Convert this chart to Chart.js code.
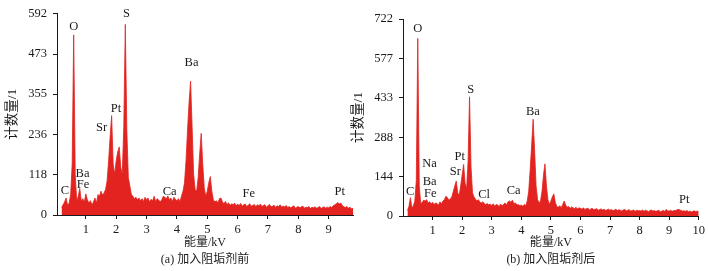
<!DOCTYPE html>
<html>
<head>
<meta charset="utf-8">
<script src="https://cdn.jsdelivr.net/npm/chart.js@4.4.0/dist/chart.umd.min.js"></script>
<style>
  body { margin: 0; background: #fff; width: 708px; height: 271px; overflow: hidden; position: relative; }
  .box { position: absolute; top: 0; height: 271px; }
</style>
</head>
<body>
<div class="box" style="left:0;width:360px"><canvas id="chartA" width="360" height="271"></canvas></div>
<div class="box" style="left:350px;width:358px"><canvas id="chartB" width="358" height="271"></canvas></div>
<script>
// EDS spectra, counts per channel (channel calibration: start + step in kV)
const startA = 0.20, stepA = 0.05;
const countsA = [
  22, 30, 38, 50, 28, 35, 60, 150, 529, 120, 40, 55, 78, 40, 48, 38,
  62, 45, 35, 42, 30, 38, 50, 35, 60, 55, 70, 58, 65, 75, 100, 160, 230, 292, 150, 120,
  160, 185, 200, 140, 120, 260, 560, 250, 110, 85, 60, 55, 48, 52, 45, 50, 42, 48, 40, 52,
  45, 50, 38, 46, 42, 55, 40, 48, 44, 38, 45, 55, 52, 48, 56, 45, 50, 40, 52, 46,
  42, 48, 40, 55, 70, 95, 160, 250, 330, 393, 260, 120, 75, 70, 110, 180, 240, 150, 80, 55,
  70, 95, 113, 70, 45, 38, 42, 36, 48, 50, 38, 34, 40, 30, 36, 28, 33, 30, 35, 27,
  32, 28, 34, 26, 30, 32, 25, 29, 33, 26, 28, 31, 24, 30, 27, 32, 25, 28, 30, 23,
  27, 31, 24, 26, 29, 22, 27, 25, 30, 23, 26, 24, 28, 22, 25, 21, 24, 27, 20, 23,
  25, 21, 24, 26, 20, 23, 22, 25, 19, 23, 21, 24, 20, 22, 25, 19, 22, 24, 20, 23,
  21, 25, 22, 27, 30, 33, 37, 32, 35, 28, 24, 22, 25, 20, 23, 18, 20
];
const startB = 0.15, stepB = 0.05;
const countsB = [
  20, 35, 67, 30, 38, 55, 130, 651, 110, 45, 50, 58, 55, 60, 48, 52, 45,
  50, 42, 48, 45, 40, 52, 44, 55, 60, 72, 68, 58, 62, 70, 90, 110, 128, 85, 75, 110,
  150, 189, 120, 100, 200, 437, 180, 85, 70, 62, 55, 60, 50, 48, 52, 45, 42, 46, 40, 44,
  38, 45, 36, 42, 40, 35, 44, 38, 42, 48, 40, 52, 55, 50, 58, 45, 48, 40, 42, 38,
  40, 36, 42, 38, 55, 90, 170, 260, 355, 240, 110, 60, 48, 55, 90, 150, 191, 110, 60, 42,
  55, 70, 81, 50, 35, 32, 38, 30, 42, 55, 40, 32, 35, 28, 33, 30, 27, 32, 26, 30,
  28, 25, 30, 24, 27, 29, 22, 26, 28, 23, 25, 27, 21, 24, 26, 22, 25, 20, 23, 25,
  21, 24, 19, 22, 25, 20, 23, 21, 18, 22, 24, 19, 21, 23, 18, 20, 22, 17, 21, 19,
  20, 18, 22, 17, 21, 19, 16, 20, 22, 18, 20, 17, 19, 21, 16, 18, 20, 17, 24, 19,
  18, 21, 17, 20, 19, 22, 24, 23, 20, 18, 19, 17, 20, 16, 18, 15, 17, 19, 16, 18,
  15
];

const yTicksA = [0, 118, 236, 355, 473, 592];
const yTicksB = [0, 144, 288, 433, 577, 722];
const xTicksA = [1, 2, 3, 4, 5, 6, 7, 8, 9];
const xTicksB = [1, 2, 3, 4, 5, 6, 7, 8, 9, 10];

// element labels: [name, energy kV, count]
const peaksA = [
  ['O', 0.605, 552], ['S', 2.34, 592], ['Ba', 4.48, 446], ['Pt', 1.99, 313], ['Sr', 1.52, 257],
  ['Ba', 0.89, 122], ['Fe', 0.91, 88], ['C', 0.31, 72], ['Ca', 3.76, 69], ['Fe', 6.37, 63], ['Pt', 9.36, 67]
];
const peaksB = [
  ['O', 0.50, 688], ['S', 2.29, 462], ['Ba', 4.39, 382], ['Na', 0.90, 191], ['Pt', 1.92, 217],
  ['Sr', 1.77, 162], ['Ba', 0.90, 126], ['Fe', 0.92, 80], ['C', 0.24, 89], ['Cl', 2.74, 77],
  ['Ca', 3.74, 93], ['Pt', 9.51, 61]
];

const serif = "'Liberation Serif', 'Times New Roman', 'Noto Sans CJK SC', serif";
const ink = '#1a1a1a';
const red = '#e2231f';

function spectrum(start, step, counts) {
  return counts.map((c, i) => ({ x: +(start + i * step).toFixed(2), y: c }));
}

const peakLabels = {
  id: 'peakLabels',
  afterDatasetsDraw(chart, args, opts) {
    const { ctx, scales: { x, y } } = chart;
    ctx.save();
    ctx.font = '12.5px ' + serif;
    ctx.fillStyle = ink;
    ctx.textAlign = 'center';
    ctx.textBaseline = 'middle';
    opts.items.forEach(p => ctx.fillText(p[0], x.getPixelForValue(p[1]), y.getPixelForValue(p[2])));
    ctx.restore();
  }
};

function makeChart(id, cfg) {
  const tickFont = { family: serif, size: 12.5 };
  new Chart(document.getElementById(id), {
    type: 'line',
    data: {
      datasets: [{
        data: spectrum(cfg.start, cfg.step, cfg.counts),
        borderColor: red,
        backgroundColor: red,
        borderWidth: 0.8,
        pointRadius: 0,
        tension: 0,
        fill: 'origin'
      }]
    },
    options: {
      responsive: false,
      animation: false,
      layout: { padding: { top: cfg.top, right: cfg.right, left: 0, bottom: 0 } },
      plugins: {
        legend: { display: false },
        tooltip: { enabled: false },
        peakLabels: { items: cfg.peaks }
      },
      scales: {
        x: {
          type: 'linear',
          min: cfg.xmin,
          max: cfg.xmax,
          afterBuildTicks: s => { s.ticks = cfg.xTicks.map(v => ({ value: v })); },
          afterFit: s => { s.height = cfg.xHeight; },
          border: { color: ink, width: 1 },
          grid: { drawOnChartArea: false, tickLength: 4, color: ink },
          ticks: { font: tickFont, color: ink, padding: 3, maxRotation: 0 },
          title: {
            display: true,
            text: ['能量/kV', cfg.caption],
            font: { family: serif, size: 12, lineHeight: '17px' },
            color: ink,
            padding: { top: 0, bottom: 2.5 }
          }
        },
        y: {
          min: 0,
          max: cfg.yTicks[cfg.yTicks.length - 1],
          afterBuildTicks: s => { s.ticks = cfg.yTicks.map(v => ({ value: v })); },
          afterFit: s => { s.width = cfg.yWidth; },
          border: { color: ink, width: 1 },
          grid: { drawOnChartArea: false, tickLength: 4, color: ink },
          ticks: { font: tickFont, color: ink, padding: 6 },
          title: {
            display: true,
            text: '计数量/1',
            font: { family: serif, size: 13.5 },
            color: ink,
            padding: { top: cfg.yTitlePad, bottom: 0 }
          }
        }
      }
    },
    plugins: [peakLabels]
  });
}

makeChart('chartA', {
  start: startA, step: stepA, counts: countsA, peaks: peaksA,
  xTicks: xTicksA, yTicks: yTicksA, xmin: 0.05, xmax: 9.8,
  top: 10, right: 7, xHeight: 56, yWidth: 57, yTitlePad: 3.9,
  caption: '(a) 加入阻垢剂前'
});
makeChart('chartB', {
  start: startB, step: stepB, counts: countsB, peaks: peaksB,
  xTicks: xTicksB, yTicks: yTicksB, xmin: 0, xmax: 10,
  top: 19, right: 9, xHeight: 55, yWidth: 53, yTitlePad: 0,
  caption: '(b) 加入阻垢剂后'
});
</script>
</body>
</html>
